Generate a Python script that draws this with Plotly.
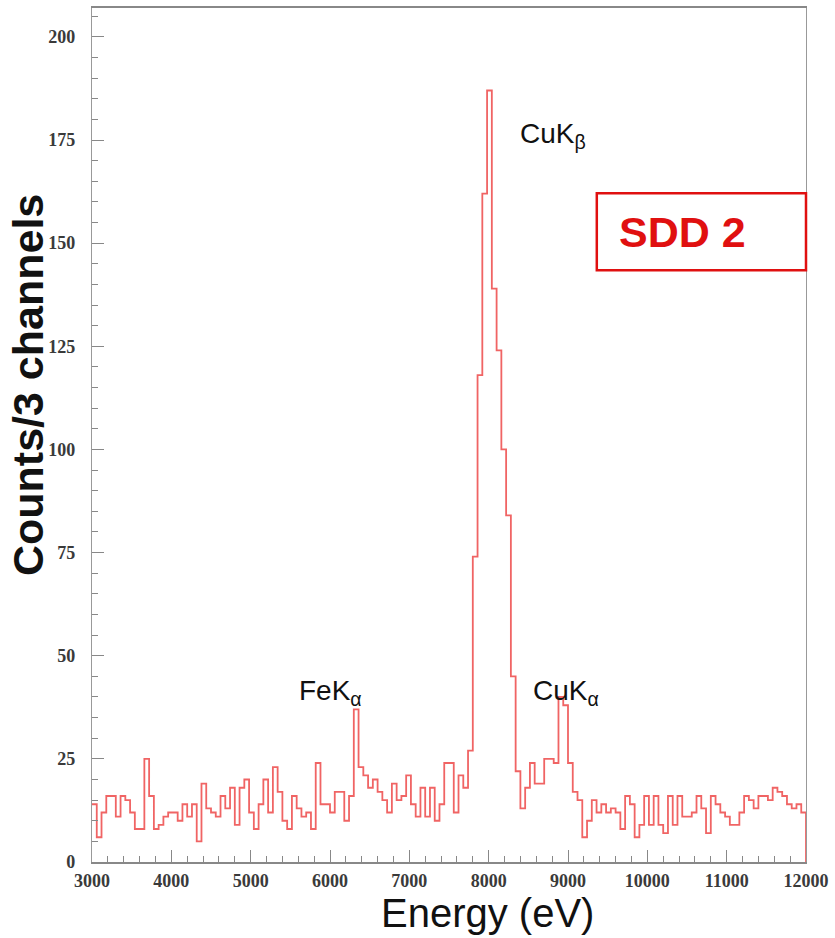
import plotly.graph_objects as go

# ---- data ----
bin_start = 3000      # eV, left edge of first bin
bin_width = 60        # eV per bin (3 channels)
counts = [
    14, 6, 12, 16, 16, 11, 16, 15, 12, 8, 8,
    25,
    16, 8, 9, 11, 12, 12, 10, 14,
    11, 14, 5, 19, 13, 12, 11, 16, 13, 18,
    9, 18, 20, 12, 8, 14, 20, 12, 23, 17,
    10, 8, 16, 13, 11, 12, 8, 24, 14, 14,
    12, 17, 17, 10, 16, 37,
    23, 21, 18, 20, 17, 15, 12, 19, 15, 16, 21, 14, 11, 18,
    11, 18, 10, 14, 24, 24, 12, 21, 18, 27,
    74, 118, 162, 187, 139, 124, 100, 84, 45, 22,
    13, 18, 24, 19, 19, 25, 25, 24, 40, 38,
    24, 17, 15, 6, 10, 15, 12, 14, 12, 13,
    12, 8, 16, 14, 6, 9, 16, 9, 16, 9,
    7, 16, 9, 16, 11, 11, 12, 16, 13, 7,
    16, 14, 12, 11, 9, 9, 12, 16, 15, 13,
    16, 16, 15, 18, 17, 16, 14, 13, 14, 12,
]
x_ticks = [3000, 4000, 5000, 6000, 7000, 8000, 9000, 10000, 11000, 12000]
x_tick_labels = ["3000", "4000", "5000", "6000", "7000", "8000", "9000",
                 "10000", "11000", "12000"]
y_ticks = [0, 25, 50, 75, 100, 125, 150, 175, 200]
y_tick_labels = ["0", "25", "50", "75", "100", "125", "150", "175", "200"]
peak_labels = [
    ("CuK<sub>β</sub>", 8370, 176),
    ("FeK<sub>α</sub>", 5590, 41),
    ("CuK<sub>α</sub>", 8535, 41),
]

# ---- step outline ----
edges = [bin_start + i * bin_width for i in range(len(counts) + 1)]
xs = edges[:-1] + [edges[-1], edges[-1]]
ys = counts + [counts[-1], 0]

fig = go.Figure()
fig.add_trace(go.Scatter(
    x=xs, y=ys, mode="lines", line_shape="hv",
    line=dict(color="#f06464", width=1.8), showlegend=False,
    hoverinfo="skip",
))

tickfont = dict(family="Liberation Serif, Times New Roman, serif", size=18,
                color="#3a3a3a", weight="bold")
fig.update_xaxes(
    range=[3000, 12000], tickvals=x_ticks, ticktext=x_tick_labels,
    ticks="inside", ticklen=12, automargin=False,
    tickcolor="#888", tickwidth=1, showline=True, linecolor="#888",
    linewidth=1.5, mirror=True, showgrid=False, zeroline=False,
    tickfont=tickfont, ticklabelstandoff=2,
    minor=dict(dtick=200, ticks="inside", ticklen=6, tickcolor="#888"),
)
fig.update_yaxes(
    range=[0, 207], tickvals=y_ticks, ticktext=y_tick_labels,
    ticks="inside", ticklen=12, automargin=False,
    tickcolor="#888", tickwidth=1, showline=True, linecolor="#999",
    linewidth=1.2, mirror=True, showgrid=False, zeroline=False,
    tickfont=tickfont, ticklabelstandoff=12,
    minor=dict(dtick=5, ticks="inside", ticklen=6, tickcolor="#888"),
)

annotations = []
for text, ex, cy in peak_labels:
    annotations.append(dict(
        x=ex, y=cy, xref="x", yref="y", text=text, showarrow=False,
        xanchor="left", yanchor="middle",
        font=dict(family="Liberation Sans, Arial, sans-serif", size=28,
                  color="#111"),
    ))
annotations.append(dict(
    x=0, y=0.5585, xref="paper", yref="paper", xshift=-64,
    text="<b>Counts/3 channels</b>", showarrow=False, textangle=-90,
    xanchor="center", yanchor="middle",
    font=dict(family="Liberation Sans, Arial, sans-serif", size=43,
              color="#111"),
))
annotations.append(dict(
    x=0.5546, y=0, xref="paper", yref="paper", yshift=-28,
    text="Energy (eV)", showarrow=False, borderpad=0,
    xanchor="center", yanchor="top",
    font=dict(family="Liberation Sans, Arial, sans-serif", size=40,
              color="#111"),
))
annotations.append(dict(
    x=0.735, y=0.738, xref="paper", yref="paper",
    text="<b>SDD 2</b>", showarrow=False,
    xanchor="left", yanchor="middle",
    font=dict(family="Liberation Sans, Arial, sans-serif", size=43,
              color="#e01010"),
))

fig.update_layout(
    width=835, height=938,
    margin=dict(l=92, r=29, t=8, b=76),
    paper_bgcolor="white", plot_bgcolor="white",
    annotations=annotations,
    shapes=[dict(type="rect", xref="paper", yref="paper",
                 x0=0.707, x1=1.0, y0=0.693, y1=0.783,
                 line=dict(color="#e01010", width=2.5))],
)

fig.write_html("out.html")
